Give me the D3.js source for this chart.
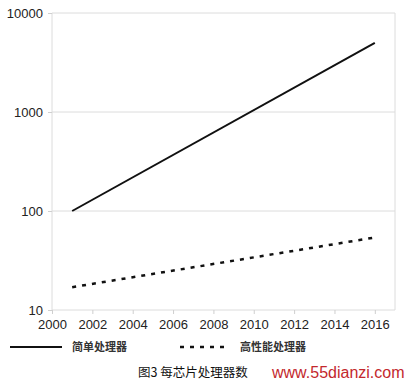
<!DOCTYPE html>
<html><head><meta charset="utf-8">
<script src="https://cdn.jsdelivr.net/npm/d3@7"></script>
<style>
html,body{margin:0;padding:0;background:#fff;}
svg{display:block;}
</style></head>
<body>
<svg id="chart" width="407" height="382"></svg>
<script>
const years = [2001, 2016];
const simpleProc = [100, 5000];
const hpProc = [17, 54];
const xTicks = [2000, 2002, 2004, 2006, 2008, 2010, 2012, 2014, 2016];
const yTicks = [10, 100, 1000, 10000];
const seriesNames = ["简单处理器", "高性能处理器"];
const caption = "图3 每芯片处理器数";
const watermark = "www.55dianzi.com";

const svg = d3.select("#chart");
const x = d3.scaleLinear().domain([2000, 2017]).range([52, 395]);
const y = d3.scaleLog().domain([10, 10000]).range([310, 13]);
const font = "'Liberation Sans', Arial, sans-serif";
const cjk = "'Noto Sans CJK SC', sans-serif";

// grid
svg.append("g").selectAll("line").data(yTicks).join("line")
  .attr("x1", x(2000)).attr("x2", x(2017))
  .attr("y1", d => y(d)).attr("y2", d => y(d))
  .attr("stroke", "#dcdcdc").attr("stroke-width", 1);
svg.append("line").attr("x1", x(2000)).attr("x2", x(2000)).attr("y1", y(10000)).attr("y2", y(10))
  .attr("stroke", "#dcdcdc");
svg.append("line").attr("x1", x(2017)).attr("x2", x(2017)).attr("y1", y(10000)).attr("y2", y(10))
  .attr("stroke", "#dcdcdc");

// axes
const xAxis = svg.append("g").attr("transform", `translate(0,${y(10)})`)
  .call(d3.axisBottom(x).tickValues(xTicks).tickFormat(d3.format("d")).tickSize(4).tickPadding(6));
xAxis.select(".domain").remove();
xAxis.selectAll("line").attr("stroke", "#cfcfcf");
xAxis.selectAll("text").attr("font-family", font).attr("font-size", 13).attr("fill", "#222");

const yAxis = svg.append("g").attr("transform", `translate(${x(2000)},0)`)
  .call(d3.axisLeft(y).tickValues(yTicks).tickFormat(d3.format("d")).tickSize(4).tickPadding(5));
yAxis.select(".domain").remove();
yAxis.selectAll("line").attr("stroke", "#cfcfcf");
yAxis.selectAll("text").attr("font-family", font).attr("font-size", 13).attr("fill", "#222");

// lines
const line = d3.line().x(d => x(d[0])).y(d => y(d[1]));
svg.append("path").datum(years.map((yr, i) => [yr, simpleProc[i]]))
  .attr("d", line).attr("fill", "none").attr("stroke", "#111").attr("stroke-width", 2);
svg.append("path").datum(years.map((yr, i) => [yr, hpProc[i]]))
  .attr("d", line).attr("fill", "none").attr("stroke", "#111").attr("stroke-width", 2.5)
  .attr("stroke-dasharray", "4,6");

// legend
const lg = svg.append("g");
lg.append("line").attr("x1", 10).attr("x2", 62).attr("y1", 347).attr("y2", 347)
  .attr("stroke", "#111").attr("stroke-width", 2);
lg.append("text").attr("x", 72).attr("y", 351).text(seriesNames[0])
  .attr("font-family", cjk).attr("font-size", 11).attr("font-weight", "bold").attr("fill", "#333");
lg.append("line").attr("x1", 180).attr("x2", 226).attr("y1", 347).attr("y2", 347)
  .attr("stroke", "#111").attr("stroke-width", 2.5).attr("stroke-dasharray", "4,6");
lg.append("text").attr("x", 240).attr("y", 351).text(seriesNames[1])
  .attr("font-family", cjk).attr("font-size", 11).attr("font-weight", "bold").attr("fill", "#333");

// caption
svg.append("text").attr("x", 138).attr("y", 377).text(caption)
  .attr("font-family", cjk).attr("font-size", 12.5).attr("fill", "#111");
svg.append("text").attr("x", 272).attr("y", 378).text(watermark)
  .attr("font-family", font).attr("font-size", 16).attr("fill", "#c3282d");
</script>
</body></html>
